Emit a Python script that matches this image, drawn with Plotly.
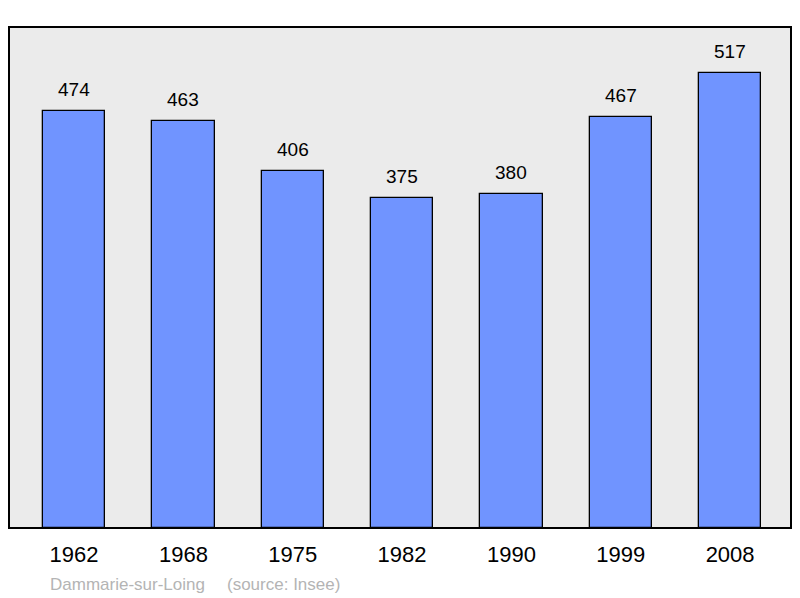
import plotly.graph_objects as go

years = ["1962", "1968", "1975", "1982", "1990", "1999", "2008"]
population = [474, 463, 406, 375, 380, 467, 517]

xpos = list(range(len(years)))

# page body has an 8px margin; plot area target: x 9..791, y 27..528
W, H = 792, 590
ML, MR, MT, MB = 1, 9, 19, 70
plot_h = H - MT - MB

fig = go.Figure()
fig.add_trace(go.Bar(
    x=xpos, y=population, width=0.57,
    marker=dict(color="#7094ff", line=dict(color="#000000", width=1.3)),
    hoverinfo="skip",
))

for x, v in zip(xpos, population):
    fig.add_annotation(x=x, y=v, text=str(v), showarrow=False, yanchor="bottom",
                       yshift=9, font=dict(size=19, color="#000000", family="Liberation Sans, Arial"))

fy = -(584 - 528) / plot_h
fig.add_annotation(xref="paper", yref="paper", x=(48 - 9) / 782, y=fy,
                   xanchor="left", yanchor="middle", showarrow=False,
                   text="Dammarie-sur-Loing", font=dict(size=17, color="#b4b4b4", family="Liberation Sans, Arial"))
fig.add_annotation(xref="paper", yref="paper", x=(225 - 9) / 782, y=fy,
                   xanchor="left", yanchor="middle", showarrow=False,
                   text="(source: Insee)", font=dict(size=17, color="#b4b4b4", family="Liberation Sans, Arial"))

fig.add_shape(type="rect", xref="paper", yref="paper", x0=0, y0=0, x1=1, y1=1,
              line=dict(color="#000000", width=2), fillcolor="rgba(0,0,0,0)", layer="above")

fig.update_layout(
    width=W, height=H,
    margin=dict(l=ML, r=MR, t=MT, b=MB),
    paper_bgcolor="#ffffff", plot_bgcolor="#ebebeb",
    showlegend=False,
    bargap=0,
    xaxis=dict(range=[-0.595, 6.557], tickmode="array", tickvals=xpos, ticktext=years,
               showgrid=False, zeroline=False, showline=False,
               ticks="outside", ticklen=7, tickcolor="rgba(0,0,0,0)",
               tickfont=dict(size=22, color="#000000", family="Liberation Sans, Arial")),
    yaxis=dict(range=[0, 569.3], showgrid=False, zeroline=False, showline=False,
               showticklabels=False, ticks=""),
)

fig.write_html("out.html")
